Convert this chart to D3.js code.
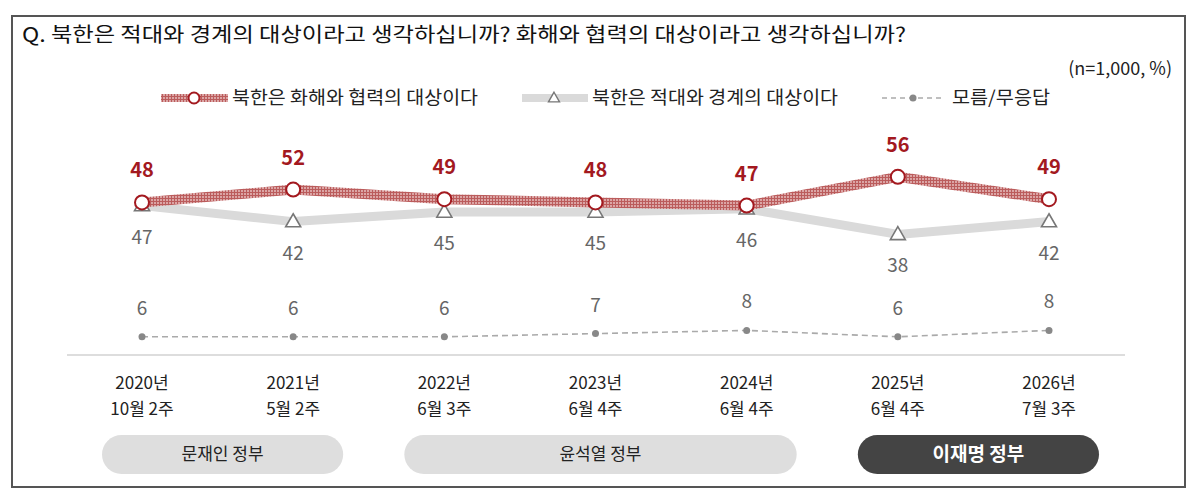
<!DOCTYPE html>
<html>
<head>
<meta charset="utf-8">
<script src="https://cdn.jsdelivr.net/npm/d3@7"></script>
<style>
body { margin: 0; background: #fff; }
svg { display: block; font-family: "Noto Sans CJK KR", "Noto Sans", sans-serif; }
</style>
</head>
<body>
<svg id="chart" width="1200" height="497"></svg>
<script>
var periods = ["2020년|10월 2주", "2021년|5월 2주", "2022년|6월 3주", "2023년|6월 4주",
	"2024년|6월 4주", "2025년|6월 4주", "2026년|7월 3주"];
var reconcile = [48, 52, 49, 48, 47, 56, 49];
var hostile = [47, 42, 45, 45, 46, 38, 42];
var unknown = [6, 6, 6, 7, 8, 6, 8];
var governments = [
	{ name: "문재인 정부", from: 0, to: 1, current: false },
	{ name: "윤석열 정부", from: 2, to: 4, current: false },
	{ name: "이재명 정부", from: 5, to: 6, current: true }
];
var seriesNames = ["북한은 화해와 협력의 대상이다", "북한은 적대와 경계의 대상이다", "모름/무응답"];

var red = "#a3191f", redLine = "url(#hatch)", greyLine = "#dadada", textGrey = "#666";

var svg = d3.select("#chart");

// hatched fill for the red series
var pat = svg.append("defs").append("pattern")
	.attr("id", "hatch").attr("patternUnits", "userSpaceOnUse")
	.attr("width", 3).attr("height", 3);
pat.append("rect").attr("width", 3).attr("height", 3).attr("fill", "#dba5a5");
pat.append("rect").attr("width", 3).attr("height", 1).attr("fill", "#bb5c5c");
pat.append("rect").attr("width", 1).attr("height", 3).attr("fill", "#bb5c5c");

// frame
svg.append("rect").attr("x", 12).attr("y", 16).attr("width", 1173).attr("height", 471)
	.attr("fill", "none").attr("stroke", "#555").attr("stroke-width", 2);

svg.append("text").attr("x", 22).attr("y", 42)
	.attr("font-size", 20).attr("fill", "#111")
	.attr("textLength", 884).attr("lengthAdjust", "spacingAndGlyphs")
	.text("Q. 북한은  적대와  경계의  대상이라고  생각하십니까? 화해와  협력의  대상이라고  생각하십니까?");

svg.append("text").attr("x", 1172).attr("y", 75).attr("text-anchor", "end")
	.attr("font-size", 18).attr("fill", "#222")
	.text("(n=1,000,  %)");

var x = d3.scaleLinear().domain([0, 6]).range([142, 1049]);
var y = d3.scaleLinear().domain([0, 60]).range([356, 164]);

// baseline
svg.append("line").attr("x1", 67).attr("x2", 1125).attr("y1", 355).attr("y2", 355)
	.attr("stroke", "#dddddd").attr("stroke-width", 2);

var line = d3.line().x(function(d, i){ return x(i); }).y(function(d){ return y(d); });

function triangle(cx, cy, s) {
	var h = s * 0.87;
	return "M" + cx + "," + (cy - h * 0.6) + "L" + (cx + s / 2) + "," + (cy + h * 0.4) +
		"L" + (cx - s / 2) + "," + (cy + h * 0.4) + "Z";
}

// unknown (dashed)
svg.append("path").datum(unknown).attr("d", line).attr("fill", "none")
	.attr("stroke", "#aaa").attr("stroke-width", 1.6).attr("stroke-dasharray", "6,4");
svg.selectAll("circle.unk").data(unknown).enter().append("circle").attr("class", "unk")
	.attr("cx", function(d, i){ return x(i); }).attr("cy", function(d){ return y(d); })
	.attr("r", 3.5).attr("fill", "#888");
svg.selectAll("text.unk").data(unknown).enter().append("text").attr("class", "unk")
	.attr("x", function(d, i){ return x(i); }).attr("y", function(d){ return y(d) - 22; })
	.attr("text-anchor", "middle").attr("font-size", 19).attr("fill", textGrey)
	.text(function(d){ return d; });

// hostile (grey)
svg.append("path").datum(hostile).attr("d", line).attr("fill", "none")
	.attr("stroke", greyLine).attr("stroke-width", 9).attr("stroke-linejoin", "round");
// reconcile (red)
svg.append("path").datum(reconcile).attr("d", line).attr("fill", "none")
	.attr("stroke", redLine).attr("stroke-width", 10).attr("stroke-linejoin", "round");

svg.selectAll("path.tri").data(hostile).enter().append("path").attr("class", "tri")
	.attr("d", function(d, i){ return triangle(x(i), y(d), 15); })
	.attr("fill", "#fff").attr("stroke", "#777").attr("stroke-width", 1.6);
svg.selectAll("text.host").data(hostile).enter().append("text").attr("class", "host")
	.attr("x", function(d, i){ return x(i); }).attr("y", function(d){ return y(d) + 38; })
	.attr("text-anchor", "middle").attr("font-size", 19).attr("fill", textGrey)
	.text(function(d){ return d; });

svg.selectAll("circle.rec").data(reconcile).enter().append("circle").attr("class", "rec")
	.attr("cx", function(d, i){ return x(i); }).attr("cy", function(d){ return y(d); })
	.attr("r", 7).attr("fill", "#fff").attr("stroke", red).attr("stroke-width", 2);
svg.selectAll("text.rec").data(reconcile).enter().append("text").attr("class", "rec")
	.attr("x", function(d, i){ return x(i); }).attr("y", function(d){ return y(d) - 25; })
	.attr("text-anchor", "middle").attr("font-size", 20).attr("font-weight", "bold")
	.attr("fill", red).text(function(d){ return d; });

// x labels
var xl = svg.selectAll("text.xl").data(periods).enter().append("text").attr("class", "xl")
	.attr("text-anchor", "middle").attr("font-size", 17).attr("fill", "#222");
xl.append("tspan").attr("x", function(d, i){ return x(i); }).attr("y", 389)
	.text(function(d){ return d.split("|")[0]; });
xl.append("tspan").attr("x", function(d, i){ return x(i); }).attr("y", 415)
	.text(function(d){ return d.split("|")[1]; });

// government pills
function pillStart(d){ return x(d.from) - 40; }
function pillEnd(d){ return x(d.to) + 50; }
var pills = svg.selectAll("g.gov").data(governments).enter().append("g").attr("class", "gov");
pills.append("rect")
	.attr("x", pillStart)
	.attr("width", function(d){ return pillEnd(d) - pillStart(d); })
	.attr("y", 435).attr("height", 39).attr("rx", 19.5)
	.attr("fill", function(d){ return d.current ? "#444" : "#dedede"; });
pills.append("text")
	.attr("x", function(d){ return (pillStart(d) + pillEnd(d)) / 2; })
	.attr("y", function(d){ return d.current ? 461 : 460; })
	.attr("text-anchor", "middle")
	.attr("font-size", function(d){ return d.current ? 19 : 17; })
	.attr("font-weight", function(d){ return d.current ? "bold" : "normal"; })
	.attr("fill", function(d){ return d.current ? "#fff" : "#222"; })
	.text(function(d){ return d.name; });

// legend
var legend = [
	{ x0: 161, x1: 228, mx: 194, tx: 232, w: 246 },
	{ x0: 522, x1: 588, mx: 554, tx: 592, w: 246 },
	{ x0: 882, x1: 944, mx: 913, tx: 952, w: 98 }
];
var ly = 98;
svg.append("line").attr("x1", legend[0].x0).attr("x2", legend[0].x1).attr("y1", ly).attr("y2", ly)
	.attr("stroke", redLine).attr("stroke-width", 8);
svg.append("circle").attr("cx", legend[0].mx).attr("cy", ly).attr("r", 5.5)
	.attr("fill", "#fff").attr("stroke", red).attr("stroke-width", 2);
svg.append("line").attr("x1", legend[1].x0).attr("x2", legend[1].x1).attr("y1", ly).attr("y2", ly)
	.attr("stroke", greyLine).attr("stroke-width", 8);
svg.append("path").attr("d", triangle(legend[1].mx, ly, 11))
	.attr("fill", "#fff").attr("stroke", "#777").attr("stroke-width", 1.4);
svg.append("line").attr("x1", legend[2].x0).attr("x2", legend[2].x1).attr("y1", ly).attr("y2", ly)
	.attr("stroke", "#aaa").attr("stroke-width", 1.6).attr("stroke-dasharray", "5,4");
svg.append("circle").attr("cx", legend[2].mx).attr("cy", ly).attr("r", 3.5).attr("fill", "#888");
legend.forEach(function(l, i){
	svg.append("text").attr("x", l.tx).attr("y", ly + 6).attr("font-size", 18).attr("fill", "#222")
		.attr("textLength", l.w).attr("lengthAdjust", "spacingAndGlyphs")
		.text(seriesNames[i]);
});
</script>
</body>
</html>
